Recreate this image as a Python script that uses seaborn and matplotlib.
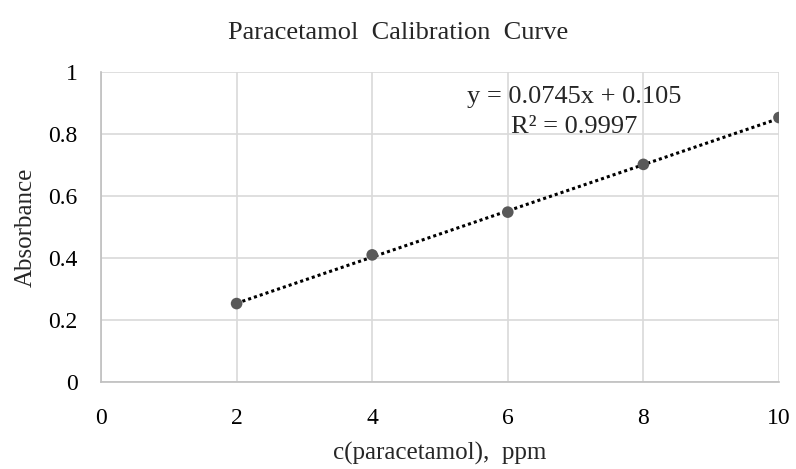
import matplotlib
matplotlib.use("Agg")
import matplotlib.pyplot as plt
import seaborn as sns
import numpy as np
import pandas as pd

conc = [2, 4, 6, 8, 10]
absorbance = [0.253, 0.41, 0.548, 0.702, 0.853]
slope = 0.0745
intercept = 0.105
r2 = 0.9997
x_ticks = [0, 2, 4, 6, 8, 10]
y_ticks = [0, 0.2, 0.4, 0.6, 0.8, 1]
y_tick_labels = ["0", "0.2", "0.4", "0.6", "0.8", "1"]

sns.set_theme(style="white")
plt.rcParams['font.family'] = ['Liberation Serif', 'DejaVu Serif']

df = pd.DataFrame({"c": conc, "A": absorbance})
fit = pd.DataFrame({"c": [conc[0], conc[-1]]})
fit["A"] = slope * fit["c"] + intercept

fig = plt.figure(figsize=(7.96, 4.69), dpi=100)
ax = fig.add_axes([0.1269, 0.1855, 0.8517, 0.661])

sns.lineplot(data=fit, x="c", y="A", ax=ax, color="black", linestyle=(0, (1, 1)),
             linewidth=2.2, zorder=3)
sns.scatterplot(data=df, x="c", y="A", ax=ax, color="#595959", s=70,
                edgecolor="none", zorder=4)

ax.set_xlim(0, 10)
ax.set_ylim(0, 1)
ax.set_xticks(x_ticks)
ax.set_yticks(y_ticks)
ax.set_yticklabels(y_tick_labels)
ax.grid(True, color="#d9d9d9", linewidth=1.2)
ax.set_axisbelow(True)
for s in ["top", "right"]:
    ax.spines[s].set_visible(False)
for s in ["left", "bottom"]:
    ax.spines[s].set_color("#bfbfbf")
    ax.spines[s].set_linewidth(1.2)
ax.tick_params(axis="both", length=0, labelsize=17, colors="black")
ax.tick_params(axis="x", pad=19)
ax.tick_params(axis="y", pad=17)

ax.set_xlabel("c(paracetamol),  ppm", fontsize=18, labelpad=9)
ax.set_ylabel("Absorbance", fontsize=18, labelpad=8)
fig.suptitle("Paracetamol  Calibration  Curve", fontsize=19, x=0.5, y=0.93,
             va="center")

ax.text(0.698, 0.870, f"y = {slope}x + {intercept}\nR² = {r2}",
        transform=ax.transAxes, ha="center", va="center", fontsize=19,
        linespacing=1.45, multialignment="center")

fig.savefig("out.png", dpi=100)
